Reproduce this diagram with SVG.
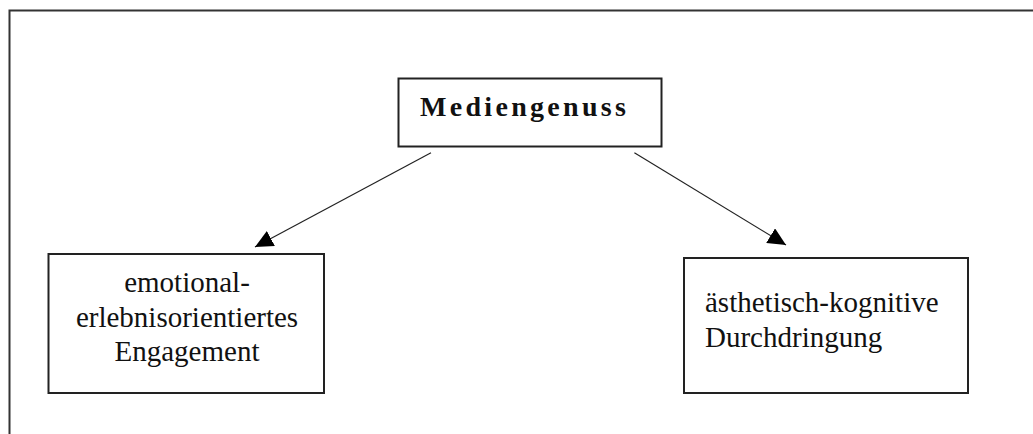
<svg xmlns="http://www.w3.org/2000/svg" width="1033" height="434" viewBox="0 0 1033 434">
<style>
.box{fill:#fff;stroke:#222;stroke-width:2}
.t{font-family:"Liberation Serif","Times New Roman",serif;font-size:29px;fill:#111}
.b{font-weight:bold;font-size:28px;letter-spacing:3.3px}
.conn{stroke:#222;stroke-width:1.2;fill:none}
</style>
<defs>
<marker id="ah" viewBox="0 0 18 17" refX="18" refY="8.5" markerWidth="18" markerHeight="17" markerUnits="userSpaceOnUse" orient="auto">
<path d="M0,0 L18,8.5 L0,17 Z" fill="#000"/>
</marker>
</defs>
<rect x="0" y="0" width="1033" height="434" fill="#fff"/>
<path d="M9.5,440 L9.5,10.5 L1040,10.5" fill="none" stroke="#333" stroke-width="2"/>
<g id="connectors">
<line class="conn" x1="431" y1="152.7" x2="255" y2="247" marker-end="url(#ah)"/>
<line class="conn" x1="634.4" y1="152.7" x2="786" y2="245" marker-end="url(#ah)"/>
</g>
<g id="node-mediengenuss">
<rect class="box" x="398.5" y="78.5" width="263" height="68"/>
<text class="t b" x="420" y="116">Mediengenuss</text>
</g>
<g id="node-emotional">
<rect class="box" x="48.5" y="254" width="275.5" height="139"/>
<text class="t" text-anchor="middle" x="187" y="292">emotional-</text>
<text class="t" text-anchor="middle" x="187" y="327">erlebnisorientiertes</text>
<text class="t" text-anchor="middle" x="187" y="361">Engagement</text>
</g>
<g id="node-aesthetisch">
<rect class="box" x="684" y="258" width="284" height="135"/>
<text class="t" x="705" y="312">ästhetisch-kognitive</text>
<text class="t" x="705" y="347">Durchdringung</text>
</g>
</svg>
